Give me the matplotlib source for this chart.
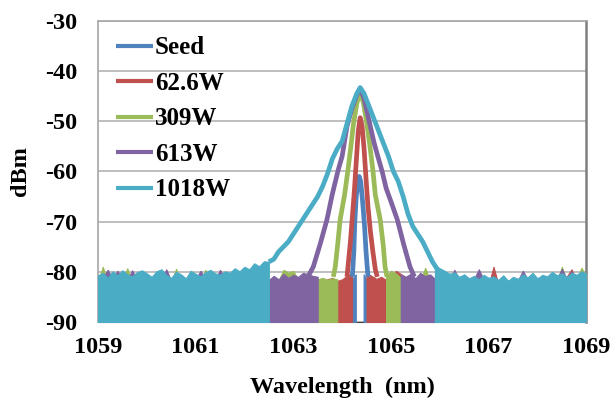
import numpy as np
import matplotlib
matplotlib.use("Agg")
import matplotlib.pyplot as plt

plt.rcParams['font.family'] = ['Liberation Serif', 'DejaVu Serif']
plt.rcParams['font.weight'] = 'bold'

series_names = ["Seed", "62.6W", "309W", "613W", "1018W"]
series_colors = ["#4F81BD", "#C0504D", "#9BBB59", "#8064A2", "#4BACC6"]

x_ticks = [1059, 1061, 1063, 1065, 1067, 1069]
y_ticks = [-90, -80, -70, -60, -50, -40, -30]
y_min, y_max = -90, -30
x_min, x_max = 1059, 1069


def grid(a, b):
    return np.round(np.arange(a, b + 0.05, 0.1), 1)

# ---------------- signal (above-noise) part of each spectrum ----------------
seed_wl = [1064.21, 1064.24, 1064.26, 1064.29, 1064.33, 1064.35, 1064.38, 1064.42, 1064.46, 1064.49, 1064.53]
seed_dbm = [-81, -76, -70, -65, -61.5, -61, -62, -66, -71, -76, -81]

w62_wl = [1064.10, 1064.13, 1064.17, 1064.21, 1064.25, 1064.29, 1064.33, 1064.37, 1064.41, 1064.45,
          1064.49, 1064.53, 1064.58, 1064.63, 1064.68, 1064.72]
w62_dbm = [-81, -78, -74, -69, -64, -58, -52, -49.3, -51, -55.5, -61.5, -67, -72, -76, -79.5, -81]

w309_wl = [1063.82, 1063.86, 1063.91, 1063.96, 1064.05, 1064.12, 1064.18, 1064.23, 1064.30, 1064.37,
           1064.44, 1064.51, 1064.57, 1064.63, 1064.68, 1064.78, 1064.84, 1064.88, 1064.92]
w309_dbm = [-81, -79, -74.5, -69.6, -64.7, -59.7, -55, -50.7, -46.5, -44, -46.5, -50.7, -55, -59.7,
            -64.7, -69.6, -74.5, -79, -81]

w613_wl = [1063.30, 1063.41, 1063.55, 1063.69, 1063.80, 1063.92, 1064.00, 1064.10, 1064.20, 1064.30,
           1064.37, 1064.45, 1064.57, 1064.66, 1064.74, 1064.82, 1064.90, 1065.00, 1065.13, 1065.26,
           1065.39, 1065.48]
w613_dbm = [-81, -79, -74.5, -69.6, -64.5, -59.7, -57, -51, -47.5, -44.8, -43.5, -45.5, -50.7, -54.5,
            -57.3, -60, -63.3, -66, -69.6, -74.5, -79, -81]

w1018_wl = [1062.5, 1062.6, 1062.7, 1062.8, 1062.9, 1063.0, 1063.1, 1063.2, 1063.3, 1063.4, 1063.5,
            1063.6, 1063.7, 1063.8, 1063.9, 1064.0, 1064.1, 1064.2, 1064.3, 1064.37, 1064.45, 1064.55,
            1064.65, 1064.75, 1064.85, 1064.95, 1065.05, 1065.15, 1065.25, 1065.35, 1065.45, 1065.55,
            1065.65, 1065.75, 1065.85, 1065.95]
w1018_dbm = [-78, -77.5, -76, -75, -74, -72.5, -71, -69.5, -68, -66.5, -65, -63, -60.5, -57.5, -55.5,
             -54, -50.5, -47, -44.5, -43.3, -44.5, -47, -49.5, -52, -54.5, -57, -60, -62, -65, -68.5,
             -71, -72.5, -74, -76, -78, -79.5]

# ---------------- noise floor (left / right of the signal) ----------------
seed_floor_l_wl = [1059.0, 1060.0, 1061.0, 1062.0, 1063.0, 1064.0, 1064.2, 1064.28]
seed_floor_l_dbm = [-83.1, -82.8, -83.2, -82.9, -83.0, -82.5, -81.5, -80.5]
seed_floor_r_wl = [1064.44, 1064.5, 1064.6, 1065.0, 1066.0, 1067.0, 1068.0, 1069.0]
seed_floor_r_dbm = [-80.5, -81.5, -82.5, -82.9, -83.1, -82.8, -83.0, -82.9]

w62_floor_l_wl = [1059.0, 1059.5, 1060.0, 1060.5, 1061.0, 1061.5, 1062.0, 1062.5, 1063.0, 1063.5,
                  1063.6, 1063.7, 1063.8, 1063.9, 1064.0, 1064.1, 1064.2]
w62_floor_l_dbm = [-82.5, -82.3, -82.6, -82.4, -82.5, -82.3, -82.6, -82.4, -82.5, -82.2,
                   -81.8, -81.5, -81.2, -81.8, -81.5, -80.8, -80.2]
w62_floor_r_wl = [1064.5, 1064.6, 1064.7, 1064.8, 1064.9, 1065.0, 1065.1, 1065.5, 1066.0, 1066.5,
                  1067.0, 1067.1, 1067.2, 1067.5, 1068.0, 1068.5, 1068.7, 1068.8, 1069.0]
w62_floor_r_dbm = [-80.2, -80.8, -81.4, -81.0, -81.6, -81.9, -79.8, -82.3, -82.5, -82.4,
                   -82.6, -79.0, -82.5, -82.3, -82.6, -82.4, -79.5, -82.3, -82.5]

w309_floor_l_wl = grid(1059.0, 1063.9)
w309_floor_l_dbm = [-82.0, -79.0, -82.2, -81.8, -82.1, -81.9, -79.3, -82.0, -81.7, -82.2,
                    -81.9, -82.3, -81.8, -82.0, -81.6, -82.1, -79.4, -82.0, -81.8, -82.2,
                    -81.9, -82.1, -79.6, -81.8, -82.0, -79.8, -82.1, -81.9, -82.2, -81.7,
                    -82.0, -81.8, -82.1, -81.9, -82.2, -81.8, -82.0, -81.7, -79.6, -80.2,
                    -79.8, -81.5, -81.2, -81.6, -81.3, -81.5, -81.2, -81.6, -81.3, -81.5]
w309_floor_r_wl = grid(1064.9, 1069.0)
w309_floor_r_dbm = [-81.0, -79.8, -80.3, -81.2, -81.6, -81.8, -81.5, -81.9, -79.2, -81.7,
                    -82.0, -81.8, -82.1, -81.9, -82.2, -81.8, -82.0, -81.7, -82.1, -79.9,
                    -82.0, -81.8, -82.2, -81.9, -82.0, -81.7, -82.1, -81.8, -82.0, -81.9,
                    -82.2, -81.8, -82.0, -81.7, -82.1, -81.9, -79.0, -81.8, -82.0, -81.6,
                    -79.2, -80.8]

w613_floor_l_wl = grid(1059.0, 1063.5)
w613_floor_l_dbm = [-81.5, -81.2, -79.6, -81.4, -79.8, -81.3, -81.6, -79.7, -81.5, -81.2,
                    -81.4, -81.7, -81.3, -81.5, -79.5, -81.8, -81.1, -81.4, -81.9, -81.3,
                    -81.5, -79.8, -81.4, -81.2, -81.6, -79.6, -81.3, -81.5, -81.2, -81.6,
                    -81.4, -81.8, -81.3, -81.5, -81.1, -81.6, -80.8, -81.5, -80.4, -81.2,
                    -80.6, -81.0, -80.2, -80.5, -80.8, -81.0]
w613_floor_r_wl = grid(1065.2, 1069.0)
w613_floor_r_dbm = [-80.5, -81.0, -80.4, -81.3, -80.2, -80.9, -80.5, -81.4,
                    -81.6, -81.2, -81.5, -79.6, -81.7, -81.3, -81.8, -81.4, -79.5, -81.6,
                    -81.9, -81.3, -81.8, -81.5, -82.0, -81.6, -81.7, -79.8, -81.5, -81.2,
                    -81.8, -81.3, -81.6, -81.1, -81.4, -79.4, -81.5, -79.9, -81.3, -81.0, -81.2]

w1018_floor_l_wl = grid(1059.0, 1062.5)
w1018_floor_l_dbm = [-80.7, -80.2, -81.2, -79.9, -80.7, -79.7, -80.5, -80.9, -80.1, -79.7,
                     -80.3, -81.0, -79.9, -79.5, -80.6, -81.2, -80.0, -80.5, -81.3, -79.8,
                     -80.4, -80.9, -80.1, -79.6, -80.3, -80.6, -79.9, -80.2, -79.3, -79.9,
                     -79.0, -79.5, -78.3, -78.9, -77.9, -78.0]
w1018_floor_r_wl = grid(1065.9, 1069.0)
w1018_floor_r_dbm = [-78.8, -79.3, -79.8, -80.4, -80.1, -81.0, -80.5, -81.3, -80.8, -81.5,
                     -80.6, -81.2, -80.9, -81.6, -80.7, -81.8, -81.0, -81.4, -80.5, -81.1,
                     -80.2, -81.3, -80.6, -80.9, -80.0, -80.7, -80.3, -81.0, -80.2, -80.6,
                     -79.9, -80.4]

signals = [(seed_wl, seed_dbm), (w62_wl, w62_dbm), (w309_wl, w309_dbm),
           (w613_wl, w613_dbm), (w1018_wl, w1018_dbm)]
floors = [
    [(seed_floor_l_wl, seed_floor_l_dbm), (seed_floor_r_wl, seed_floor_r_dbm)],
    [(w62_floor_l_wl, w62_floor_l_dbm), (w62_floor_r_wl, w62_floor_r_dbm)],
    [(w309_floor_l_wl, w309_floor_l_dbm), (w309_floor_r_wl, w309_floor_r_dbm)],
    [(w613_floor_l_wl, w613_floor_l_dbm), (w613_floor_r_wl, w613_floor_r_dbm)],
    [(w1018_floor_l_wl, w1018_floor_l_dbm), (w1018_floor_r_wl, w1018_floor_r_dbm)],
]

fig = plt.figure(figsize=(6.12, 4.01), dpi=100)
ax = fig.add_axes([0.160, 0.197, 0.798, 0.751])

for name, color, (swl, sdb), fl in zip(series_names, series_colors, signals, floors):
    for fwl, fdb in fl:
        ax.fill_between(fwl, fdb, y_min, color=color, linewidth=0.8, edgecolor=color, zorder=3)
    ax.plot(swl, sdb, color=color, linewidth=3.4, label=name, zorder=4,
            solid_joinstyle='round', solid_capstyle='butt')

ax.set_xlim(x_min, x_max)
ax.set_ylim(y_min, y_max)
ax.set_xticks(x_ticks)
ax.set_xticklabels([str(t) for t in x_ticks])
ax.set_yticks(y_ticks)
ax.set_yticklabels([str(t) for t in y_ticks])
ax.tick_params(axis='both', length=0, labelsize=17.5)
ax.tick_params(axis='y', pad=15)
ax.tick_params(axis='x', pad=11)
for lab in ax.get_xticklabels() + ax.get_yticklabels():
    lab.set_fontweight('bold')

ax.yaxis.grid(True, color='#B4B4B4', linewidth=1.2)
ax.set_axisbelow(True)
for side in ['left', 'top']:
    ax.spines[side].set_color('#A6A6A6')
    ax.spines[side].set_linewidth(1.2)
ax.spines['right'].set_color('#7F7F7F')
ax.spines['right'].set_linewidth(1.8)
ax.spines['bottom'].set_color('#404040')
ax.spines['bottom'].set_zorder(1.5)

ax.set_xlabel('Wavelength  (nm)', fontsize=17.5, fontweight='bold', labelpad=13)
ax.set_ylabel('dBm', fontsize=17.5, fontweight='bold', labelpad=10)

leg = ax.legend(loc='upper left', bbox_to_anchor=(0.016, 0.982), frameon=False,
                prop={'family': ['Liberation Serif'], 'weight': 'bold', 'size': 18},
                handlelength=1.5, handletextpad=0.06, labelspacing=0.5, borderaxespad=0.0)
for lh in leg.get_lines():
    lh.set_linewidth(3.0)

fig.savefig('out.png', dpi=100)
